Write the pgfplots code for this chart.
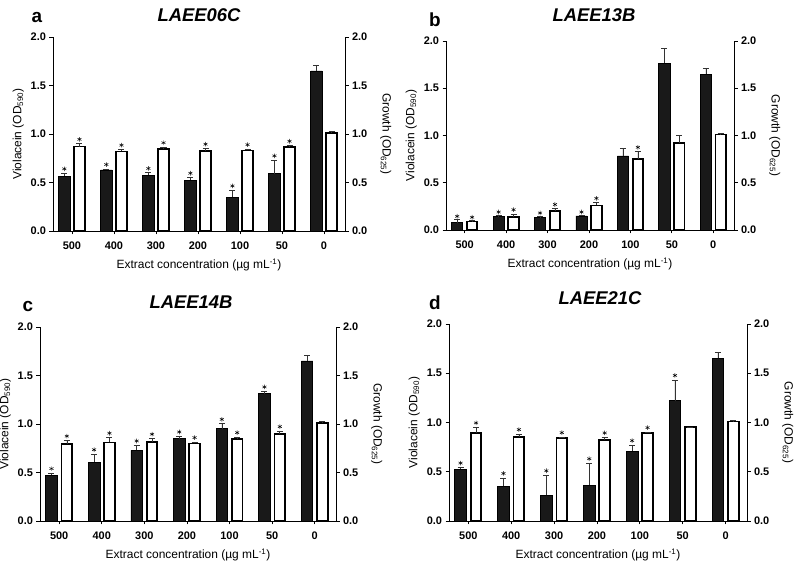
\documentclass[border=0pt]{standalone}
\usepackage{pgfplots}
\pgfplotsset{compat=1.18}
\usepackage{pgfplotstable}
\usepackage{fontspec}
\setmainfont{Liberation Sans}

% xb, xw: bar centres; v, g: values; ve, ge: upper error
\pgfplotstableread{
xb xw v ve g ge
-0.18 0.18 0.565 0.031 0.871 0.029
0.82 1.18 0.630 0.010 0.820 0.020
1.82 2.18 0.575 0.025 0.845 0.020
2.82 3.18 0.525 0.025 0.825 0.025
3.82 4.18 0.350 0.070 0.830 0.015
4.82 5.18 0.590 0.140 0.865 0.015
5.82 6.18 1.650 0.060 1.010 0.015
}\tabA
\pgfplotstableread{
xb xw v ve g ge
-0.18 0.18 0.078 0.032 0.090 0.010
0.82 1.18 0.140 0.020 0.140 0.030
1.82 2.18 0.130 0.020 0.200 0.025
2.82 3.18 0.150 0.010 0.260 0.030
3.82 4.18 0.785 0.080 0.750 0.080
4.82 5.18 1.765 0.160 0.920 0.080
5.82 6.18 1.650 0.060 1.010 0.015
}\tabB
\pgfplotstableread{
xb xw v ve g ge
-0.18 0.18 0.471 0.024 0.797 0.033
0.82 1.18 0.608 0.082 0.810 0.050
1.82 2.18 0.729 0.051 0.814 0.036
2.82 3.18 0.849 0.024 0.800 0.015
3.82 4.18 0.952 0.051 0.849 0.017
4.82 5.18 1.313 0.024 0.897 0.031
5.82 6.18 1.650 0.060 1.010 0.015
}\tabC
\pgfplotstableread{
xb xw v ve g ge
-0.18 0.18 0.526 0.017 0.893 0.058
0.82 1.18 0.353 0.085 0.852 0.031
1.82 2.18 0.261 0.204 0.839 0.013
2.82 3.18 0.363 0.224 0.825 0.024
3.82 4.18 0.710 0.061 0.893 0.010
4.82 5.18 1.222 0.211 0.951 0.003
5.82 6.18 1.650 0.060 1.010 0.015
}\tabD

\pgfplotsset{
  common/.style={scale only axis, xmin=-0.45, xmax=6.5, ymin=0, ymax=2,
    ytick={0,0.5,1,1.5,2},
    yticklabel style={/pgf/number format/.cd, fixed, fixed zerofill, precision=1},
    /pgf/number format/assume math mode=true,
    tick align=outside, major tick length=3.5bp,
    tick style={line width=0.8pt, black},
    axis line style={line width=0.9pt, black},
    tick label style={font=\bfseries\fontsize{11}{12}\selectfont},
    label style={font=\fontsize{12}{14}\selectfont},
  },
  leftax/.style={common, axis x line*=bottom, axis y line*=left,
    xtick={0,...,6}, xticklabels={500,400,300,200,100,50,0},
    xticklabel style={yshift=-3.5bp},
    xlabel={Extract concentration (µg mL\textsuperscript{-1})},
    ylabel={Violacein (OD\textsubscript{590})},
    xlabel style={yshift=-3bp},
  },
  rightax/.style={common, axis x line=none, axis y line*=right,
    ylabel={Growth (OD\textsubscript{625})}, ylabel style={rotate=180}, ylabel shift=6bp,
  },
  vbar/.style={ybar, bar width=0.27, bar shift=0, fill=black!90, draw=black, line width=0.6pt,
    error bars/.cd, y dir=plus, y explicit,
    error bar style={line width=0.6pt, black!80},
    error mark options={rotate=90, mark size=3bp, line width=0.6pt, black!80}},
  gbar/.style={ybar, bar width=0.25, bar shift=0, fill=white, draw=black, line width=1.8pt,
    error bars/.cd, y dir=plus, y explicit,
    error bar style={line width=0.6pt, black!80},
    error mark options={rotate=90, mark size=3bp, line width=0.6pt, black!80}},
  stars/.style={only marks, mark=asterisk, mark size=2.3bp, mark options={line width=0.5pt, black}},
}

\begin{document}
\begin{tikzpicture}
\useasboundingbox (0,0) rectangle (797bp,563bp);

% ---------- panel a ----------
\begin{axis}[leftax, at={(53bp,332bp)}, width=292bp, height=194bp]
\addplot[vbar] table[x=xb, y=v, y error=ve] {\tabA};
\addplot[gbar] table[x=xw, y=g, y error=ge] {\tabA};
\addplot[stars] coordinates {(-0.18,0.641) (0.82,0.685) (1.82,0.645) (2.82,0.595) (3.82,0.465) (4.82,0.775)
  (0.18,0.945) (1.18,0.885) (2.18,0.91) (3.18,0.895) (4.18,0.89) (5.18,0.925)};
\end{axis}
\begin{axis}[rightax, at={(53bp,332bp)}, width=292bp, height=194bp]
\end{axis}
\node[font=\bfseries\itshape\fontsize{18.5}{20}\selectfont] at (199bp,548bp) {LAEE06C};
\node[font=\bfseries\fontsize{19}{20}\selectfont] at (37bp,545bp) {a};

% ---------- panel b ----------
\begin{axis}[leftax, at={(446bp,333bp)}, width=288bp, height=189bp]
\addplot[vbar] table[x=xb, y=v, y error=ve] {\tabB};
\addplot[gbar] table[x=xw, y=g, y error=ge] {\tabB};
\addplot[stars] coordinates {(-0.18,0.145) (0.82,0.19) (1.82,0.18) (2.82,0.19)
  (0.18,0.135) (1.18,0.215) (2.18,0.27) (3.18,0.335) (4.18,0.875)};
\end{axis}
\begin{axis}[rightax, at={(446bp,333bp)}, width=288bp, height=189bp]
\end{axis}
\node[font=\bfseries\itshape\fontsize{18.5}{20}\selectfont] at (594bp,548bp) {LAEE13B};
\node[font=\bfseries\fontsize{19}{20}\selectfont] at (435bp,543bp) {b};

% ---------- panel c ----------
\begin{axis}[leftax, at={(40bp,42bp)}, width=296bp, height=194bp]
\addplot[vbar] table[x=xb, y=v, y error=ve] {\tabC};
\addplot[gbar] table[x=xw, y=g, y error=ge] {\tabC};
\addplot[stars] coordinates {(-0.18,0.54) (0.82,0.735) (1.82,0.825) (2.82,0.918) (3.82,1.048) (4.82,1.382)
  (0.18,0.875) (1.18,0.905) (2.18,0.895) (3.18,0.86) (4.18,0.911) (5.18,0.973)};
\end{axis}
\begin{axis}[rightax, at={(40bp,42bp)}, width=296bp, height=194bp]
\end{axis}
\node[font=\bfseries\itshape\fontsize{18.5}{20}\selectfont] at (191bp,261bp) {LAEE14B};
\node[font=\bfseries\fontsize{19}{20}\selectfont] at (28bp,256bp) {c};

% ---------- panel d ----------
\begin{axis}[leftax, at={(449bp,42bp)}, width=298bp, height=197bp]
\addplot[vbar] table[x=xb, y=v, y error=ve] {\tabD};
\addplot[gbar] table[x=xw, y=g, y error=ge] {\tabD};
\addplot[stars] coordinates {(-0.18,0.588) (0.82,0.483) (1.82,0.51) (2.82,0.632) (3.82,0.816) (4.82,1.478)
  (0.18,0.996) (1.18,0.928) (2.18,0.897) (3.18,0.894) (4.18,0.948)};
\end{axis}
\begin{axis}[rightax, at={(449bp,42bp)}, width=298bp, height=197bp]
\end{axis}
\node[font=\bfseries\itshape\fontsize{18.5}{20}\selectfont] at (600bp,265bp) {LAEE21C};
\node[font=\bfseries\fontsize{19}{20}\selectfont] at (435bp,260bp) {d};
\end{tikzpicture}
\end{document}
